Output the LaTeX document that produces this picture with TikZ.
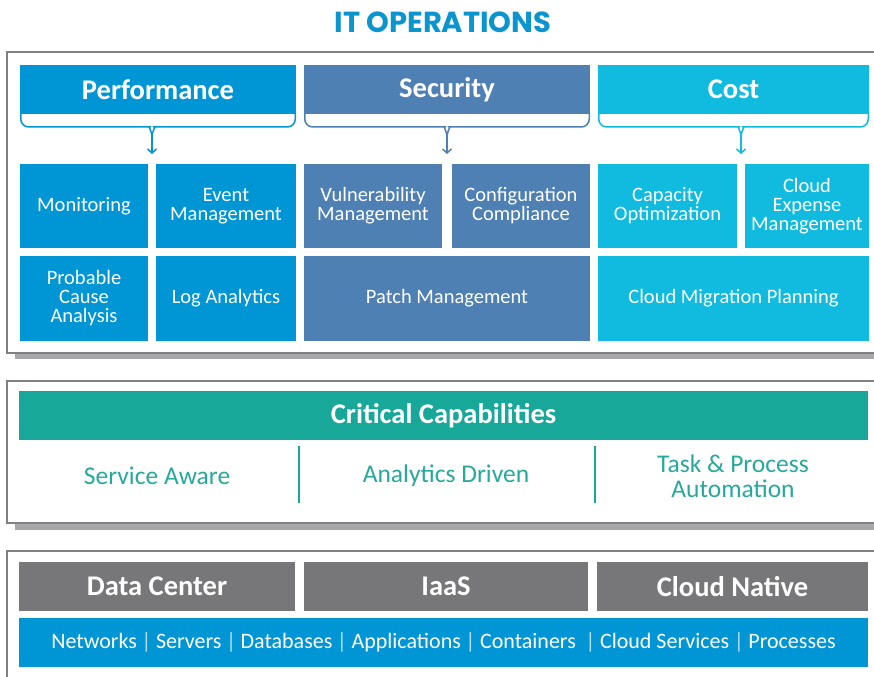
\documentclass[tikz,border=0pt]{standalone}
\usepackage{fontspec}
\setmainfont{Carlito}
\newfontfamily\titlefont{Poppins}
\usetikzlibrary{arrows.meta}
\definecolor{perf}{HTML}{0096D6}
\definecolor{sec}{HTML}{4E80B4}
\definecolor{cost}{HTML}{10BBDF}
\definecolor{teal}{HTML}{17A89A}
\definecolor{tealtext}{HTML}{26A99B}
\definecolor{grayhdr}{HTML}{77777A}
\definecolor{framec}{HTML}{808083}
\definecolor{shadowc}{HTML}{A7A7AA}
\definecolor{titlec}{HTML}{0A95CF}
\tikzset{
  frame/.style={draw=framec, line width=2bp},
  shade/.style={fill=shadowc},
  hdr/.style={inner sep=0pt, outer sep=0pt, anchor=north west, text=white,
    font=\bfseries\fontsize{28.5bp}{28.5bp}\selectfont},
  cell/.style={inner sep=0pt, outer sep=0pt, anchor=north west, text=white, align=center,
    font=\fontsize{20.5bp}{19bp}\selectfont},
  captext/.style={text=tealtext, align=center, font=\fontsize{25.5bp}{25bp}\selectfont},
  bracketline/.style={line width=1.5bp, rounded corners=8bp},
  brarrow/.style={line width=1.5bp, -{Straight Barb[length=4bp,width=9bp]}},
}
\newcommand\bsep{\hspace{4.5bp}\textcolor{white!70!perf}{|}\hspace{4.5bp}}
\newcommand\mybracket[4]{%
  \draw[bracketline, #4] (#1,114) -- (#1,127) -- (#3-10,127) [sharp corners] .. controls (#3-4,127) and (#3,131) .. (#3,137);
  \draw[bracketline, #4] (#2,114) -- (#2,127) -- (#3+10,127) [sharp corners] .. controls (#3+4,127) and (#3,131) .. (#3,137);
}
\begin{document}
\begin{tikzpicture}[x=1bp,y=-1bp]
\useasboundingbox (0,0) rectangle (874,677);
\clip (0,0) rectangle (874,677);
% title
\node[font=\titlefont\bfseries\fontsize{29bp}{29bp}\selectfont, text=titlec] (title) at (443,22) {IT OPERATIONS};
% panel frames
\fill[shade] (15,353) rectangle (900,359);
\draw[frame] (7,52) rectangle (900,353);
\fill[shade] (15,523) rectangle (900,530);
\draw[frame] (7,381) rectangle (900,523);
\draw[frame] (7,551) rectangle (900,720);
% headers
\node[hdr, fill=perf, minimum width=276bp, minimum height=49bp] (perfh) at (20,65) {Performance};
\node[hdr, fill=sec, minimum width=286bp, minimum height=49bp] (sech) at (304,65) {Security};
\node[hdr, fill=cost, minimum width=271bp, minimum height=49bp] (costh) at (598,65) {Cost};
% brackets
\mybracket{20.75}{295.25}{152}{perf}
\mybracket{304.75}{589.25}{447}{sec}
\mybracket{598.75}{868.25}{741}{cost}
\coordinate (perfa) at (152,136.5);
\coordinate (perfb) at (152,154);
\coordinate (seca) at (447,136.5);
\coordinate (secb) at (447,154);
\coordinate (costa) at (741,136.5);
\coordinate (costb) at (741,154);
\draw[brarrow, perf] (perfa) -- (perfb);
\draw[brarrow, sec] (seca) -- (secb);
\draw[brarrow, cost] (costa) -- (costb);
% performance cells
\node[cell, fill=perf, minimum width=128bp, minimum height=84bp] (mon) at (20,164) {Monitoring};
\node[cell, fill=perf, minimum width=140bp, minimum height=84bp] (event) at (156,164) {Event\\Management};
\node[cell, fill=perf, minimum width=128bp, minimum height=85bp] (prob) at (20,256) {Probable\\Cause\\Analysis};
\node[cell, fill=perf, minimum width=140bp, minimum height=85bp] (log) at (156,256) {Log Analytics};
% security cells
\node[cell, fill=sec, minimum width=138bp, minimum height=84bp] (vuln) at (304,164) {Vulnerability\\Management};
\node[cell, fill=sec, minimum width=138bp, minimum height=84bp] (conf) at (452,164) {Configuration\\Compliance};
\node[cell, fill=sec, minimum width=286bp, minimum height=85bp] (patch) at (304,256) {Patch Management};
% cost cells
\node[cell, fill=cost, minimum width=139bp, minimum height=84bp] (capo) at (598,164) {Capacity\\Optimization};
\node[cell, fill=cost, minimum width=124bp, minimum height=84bp] (cexp) at (745,164) {Cloud\\Expense\\Management};
\node[cell, fill=cost, minimum width=271bp, minimum height=85bp] (cmig) at (598,256) {Cloud Migration Planning};
% critical capabilities
\node[hdr, fill=teal, minimum width=849bp, minimum height=49bp] (crit) at (19,391) {Critical Capabilities};
\node[captext] (svc) at (157,476) {Service Aware};
\node[captext] (ana) at (446,476) {Analytics Driven};
\node[captext] (task) at (733,476) {Task \& Process\\Automation};
\coordinate (d1a) at (299,446); \coordinate (d1b) at (299,503);
\coordinate (d2a) at (595,446); \coordinate (d2b) at (595,503);
\draw[teal, line width=1.5bp] (d1a) -- (d1b);
\draw[teal, line width=1.5bp] (d2a) -- (d2b);
% bottom
\node[hdr, fill=grayhdr, minimum width=276bp, minimum height=49bp] (dc) at (19,562) {Data Center};
\node[hdr, fill=grayhdr, minimum width=284bp, minimum height=49bp] (iaas) at (304,562) {IaaS};
\node[hdr, fill=grayhdr, minimum width=271bp, minimum height=49bp] (cn) at (597,562) {Cloud Native};
\node[cell, fill=perf, minimum width=849bp, minimum height=49bp, font=\fontsize{22bp}{22bp}\selectfont] (res) at (19,618) {Networks\bsep Servers\bsep Databases\bsep Applications\bsep Containers\hspace{5bp}\bsep Cloud Services\bsep Processes};
\end{tikzpicture}
\end{document}
